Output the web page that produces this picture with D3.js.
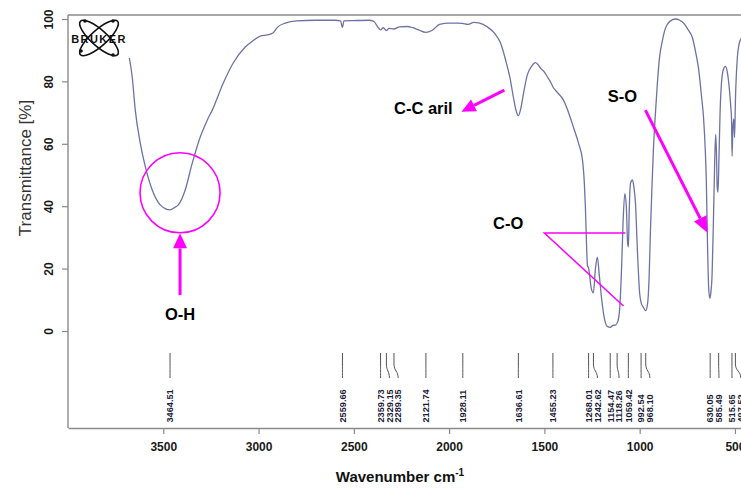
<!DOCTYPE html>
<html>
<head>
<meta charset="utf-8">
<script src="https://cdn.jsdelivr.net/npm/d3@7/dist/d3.min.js"></script>
<style>
  html, body { margin: 0; padding: 0; background: #fff; }
  svg { display: block; font-family: Arial, "Liberation Sans", sans-serif; }
</style>
</head>
<body>
<svg id="chart" width="741" height="489"></svg>
<script>
// IR spectrum (transmittance vs wavenumber)
const wavenumber = [
  3678, 3663, 3647, 3621, 3594, 3558, 3516, 3490, 3464, 3440, 3421, 3385, 3348, 3306, 3270, 3243,
  3185, 3133, 3070, 3030, 2991, 2954, 2925, 2900, 2860, 2800, 2700, 2600, 2570, 2560, 2552, 2500,
  2420, 2395, 2375, 2360, 2345, 2330, 2315, 2290, 2260, 2220, 2190, 2160, 2122, 2090, 2050, 2000,
  1960, 1930, 1900, 1870, 1840, 1800, 1760, 1730, 1700, 1680, 1663, 1650, 1637, 1625, 1610, 1590,
  1565, 1547, 1535, 1520, 1500, 1484, 1465, 1455, 1440, 1400, 1370, 1348, 1320, 1300, 1290, 1285,
  1280, 1274, 1268, 1262, 1255, 1243, 1232, 1222, 1212, 1200, 1185, 1170, 1153, 1140, 1127, 1115,
  1105, 1095, 1087, 1078, 1070, 1063, 1059, 1055, 1048, 1038, 1030, 1022, 1012, 1000, 992, 980,
  968, 958, 950, 944, 935, 928, 915, 907, 895, 881, 865, 849, 830, 812, 790, 770,
  745, 723, 705, 692, 675, 665, 655, 650, 644, 638, 632, 627, 620, 613, 606, 601,
  597, 593, 589, 584, 578, 570, 560, 550, 540, 530, 522, 518, 515, 511, 506, 502,
  497, 487, 478, 465, 450
];
const transmittance = [
  87.5, 81.4, 70.8, 60.3, 52.6, 45.2, 40.4, 39.2, 38.8, 39.6, 40.4, 45.2, 53.8, 62.2, 67.5, 70.8,
  79.5, 85.9, 91.0, 93.0, 94.5, 94.9, 95.5, 97.4, 98.7, 99.4, 99.6, 99.6, 99.4, 97.3, 99.4, 99.5,
  99.6, 99.2, 97.5, 96.5, 97.2, 96.3, 97.0, 96.8, 97.5, 97.6, 97.2, 96.5, 95.7, 96.3, 98.3, 98.7,
  98.7, 98.6, 98.3, 98.9, 98.7, 97.5, 95.3, 92.3, 86.0, 81.0, 75.0, 71.0, 69.0, 71.0, 76.0, 82.0,
  85.0, 86.0, 85.5, 84.2, 83.0, 81.4, 79.5, 78.2, 77.0, 74.0, 69.5, 65.4, 60.0, 54.8, 47.0, 40.0,
  30.0, 21.0, 20.2, 17.5, 14.0, 12.2, 20.0, 23.7, 18.0, 10.5, 4.0, 1.5, 1.2, 1.8, 1.9, 3.0,
  7.0, 20.0, 35.0, 44.0, 40.0, 28.0, 27.0, 38.0, 47.4, 48.4, 46.0, 41.0, 26.0, 12.0, 9.0, 7.5,
  6.5, 9.0, 18.0, 31.0, 47.0, 58.0, 72.0, 79.5, 88.0, 93.0, 97.0, 98.8, 99.7, 100.0, 99.6, 98.7,
  96.5, 94.0, 89.0, 84.6, 75.0, 68.6, 57.0, 47.4, 28.0, 14.0, 10.5, 12.0, 18.0, 35.0, 55.0, 63.0,
  57.0, 46.0, 44.5, 55.0, 70.0, 80.0, 84.0, 84.8, 83.0, 78.0, 72.0, 68.0, 56.0, 65.0, 68.0, 62.0,
  75.0, 88.0, 92.0, 94.0, 95.0
];

// Picked peak positions (cm-1)
const peakLabels = [
  "3464.51", "2559.66", "2359.73", "2329.15", "2289.35", "2121.74", "1928.11", "1636.61",
  "1455.23", "1268.01", "1242.62", "1154.47", "1118.26", "1059.42", "992.54", "968.10",
  "630.05", "585.49", "515.65", "497.52"
];

const xTicks = [3500, 3000, 2500, 2000, 1500, 1000, 500];
const yTicks = [0, 20, 40, 60, 80, 100];

// Band assignments drawn over the spectrum
const bandNames = ["O-H", "C-C aril", "C-O", "S-O"];

const W = 741, H = 489;
const frame = { left: 68, top: 15, bottom: 428, right: 754 };
const svg = d3.select("#chart");

const x = d3.scaleLinear().domain([4000, 400]).range([frame.left, frame.right]);
const y = d3.scaleLinear().domain([0, 100]).range([331, 19]);

const axisColor = "#8a8a8a";
const magenta = "#ff00ff";

// frame: top and left edges
svg.append("line").attr("x1", frame.left).attr("x2", W).attr("y1", frame.top).attr("y2", frame.top)
  .attr("stroke", axisColor).attr("stroke-width", 1.4);
svg.append("line").attr("x1", frame.left).attr("x2", frame.left).attr("y1", frame.top).attr("y2", frame.bottom)
  .attr("stroke", axisColor).attr("stroke-width", 1.4);

// x axis
const xAxis = svg.append("g").attr("transform", `translate(0,${frame.bottom})`)
  .call(d3.axisBottom(x).tickValues(xTicks).tickSize(6).tickSizeOuter(0).tickPadding(8).tickFormat(d3.format("d")));
xAxis.select(".domain").attr("stroke", axisColor).attr("stroke-width", 1.4);
xAxis.selectAll(".tick line").attr("stroke", axisColor).attr("stroke-width", 1.2);
xAxis.selectAll(".tick text").attr("font-size", 12).attr("font-weight", "bold")
  .attr("font-family", "Arial, 'Liberation Sans', sans-serif").attr("fill", "#1a1a1a");

// y axis
const yAxis = svg.append("g").attr("transform", `translate(${frame.left},0)`)
  .call(d3.axisLeft(y).tickValues(yTicks).tickSize(6).tickFormat(d3.format("d")));
yAxis.select(".domain").remove();
yAxis.selectAll(".tick line").attr("stroke", axisColor).attr("stroke-width", 1.2);
yAxis.selectAll(".tick text")
  .attr("x", null).attr("dy", null)
  .attr("transform", "translate(-15.5,0) rotate(-90)")
  .attr("text-anchor", "middle")
  .attr("font-size", 12).attr("font-weight", "bold")
  .attr("font-family", "Arial, 'Liberation Sans', sans-serif").attr("fill", "#1a1a1a");

// axis titles
svg.append("text")
  .attr("transform", "translate(31,168) rotate(-90)")
  .attr("text-anchor", "middle").attr("font-size", 17).attr("fill", "#333")
  .text("Transmittance [%]");
const xt = svg.append("text").attr("x", 400).attr("y", 482).attr("text-anchor", "middle")
  .attr("font-size", 15).attr("font-weight", "bold").attr("fill", "#111");
xt.append("tspan").text("Wavenumber cm");
xt.append("tspan").attr("dy", -6).attr("font-size", 10).text("-1");

// spectrum trace
svg.append("clipPath").attr("id", "plotClip").append("rect")
  .attr("x", frame.left).attr("y", frame.top).attr("width", W - frame.left).attr("height", frame.bottom - frame.top);
const spectrum = d3.zip(wavenumber, transmittance);
svg.append("path")
  .datum(spectrum)
  .attr("clip-path", "url(#plotClip)")
  .attr("fill", "none").attr("stroke", "#6d72a4").attr("stroke-width", 1.3)
  .attr("stroke-linejoin", "round")
  .attr("d", d3.line().x(d => x(d[0])).y(d => y(d[1])).curve(d3.curveMonotoneX));

// peak pick labels with leader lines; crowded labels are pushed right
const peaks = peakLabels.map(s => ({ label: s, px: x(+s) })).sort((a, b) => a.px - b.px);
const gap = 8.8;
peaks.forEach((p, i) => {
  p.lx = i === 0 ? p.px : Math.max(p.px, peaks[i - 1].lx + gap);
});
const pk = svg.append("g");
const yTop = 353, yBendStart = 364, yBendEnd = 378;
pk.selectAll("path").data(peaks).join("path")
  .attr("fill", "none").attr("stroke", "#555").attr("stroke-width", 1)
  .attr("d", p => {
    const ym = (yBendStart + yBendEnd) / 2;
    return `M${p.px},${yTop}L${p.px},${yBendStart}C${p.px},${ym} ${p.lx},${ym} ${p.lx},${yBendEnd}`;
  });
pk.selectAll("text").data(peaks).join("text")
  .attr("transform", p => `translate(${p.lx + 3.3},422.5) rotate(-90)`)
  .attr("font-size", 9.2).attr("font-weight", "bold").attr("fill", "#1d1d3a")
  .text(p => p.label);

// Bruker logo in the corner
const logo = svg.append("g").attr("transform", "translate(99,38)");
[-42, 42].forEach(a => {
  logo.append("ellipse").attr("rx", 25).attr("ry", 8).attr("transform", `rotate(${a})`)
    .attr("fill", "none").attr("stroke", "#111").attr("stroke-width", 1.6);
});
[[-14, -17], [14, 17], [-18, 13], [14, -17]].forEach(([cx, cy]) => {
  logo.append("circle").attr("cx", cx).attr("cy", cy).attr("r", 1.8).attr("fill", "#111");
});
logo.append("text").attr("x", 0).attr("y", 4.5).attr("text-anchor", "middle")
  .attr("font-size", 11).attr("font-weight", "bold").attr("letter-spacing", 1.4)
  .attr("fill", "#111").text("BRUKER");

// annotation helpers
function arrow(g, x1, y1, x2, y2, headLen, headW, width) {
  const dx = x2 - x1, dy = y2 - y1, L = Math.hypot(dx, dy);
  const ux = dx / L, uy = dy / L;
  const bx = x2 - ux * headLen, by = y2 - uy * headLen;
  g.append("line").attr("x1", x1).attr("y1", y1).attr("x2", bx).attr("y2", by)
    .attr("stroke", magenta).attr("stroke-width", width);
  g.append("polygon")
    .attr("points", [[x2, y2], [bx - uy * headW / 2, by + ux * headW / 2], [bx + uy * headW / 2, by - ux * headW / 2]].map(p => p.join(",")).join(" "))
    .attr("fill", magenta);
}
function label(g, text, xv, yv) {
  g.append("text").attr("x", x(xv)).attr("y", y(yv)).attr("text-anchor", "middle")
    .attr("dominant-baseline", "central")
    .attr("font-size", 16.5).attr("font-weight", "bold").attr("fill", "#000").text(text);
}
const ann = svg.append("g");

// O-H band
ann.append("circle").attr("cx", x(3412)).attr("cy", y(44.3)).attr("r", 40)
  .attr("fill", "none").attr("stroke", magenta).attr("stroke-width", 1.6);
arrow(ann, x(3412), y(11.5), x(3412), y(31.3), 15, 14, 3);
label(ann, bandNames[0], 3412, 5.6);

// aromatic C-C band
label(ann, bandNames[1], 2135, 71.5);
arrow(ann, x(1710), y(77.2), x(1935), y(70.3), 14, 13, 3);

// C-O band
label(ann, bandNames[2], 1690, 34.6);
ann.append("path")
  .attr("d", `M${x(1075)},${y(31.4)}L${x(1500)},${y(31.4)}L${x(1085)},${y(8)}`)
  .attr("fill", "none").attr("stroke", magenta).attr("stroke-width", 1.5);

// S-O band
label(ann, bandNames[3], 1090, 75.2);
arrow(ann, x(970), y(70.8), x(644), y(31.5), 16, 14, 3);
</script>
</body>
</html>
